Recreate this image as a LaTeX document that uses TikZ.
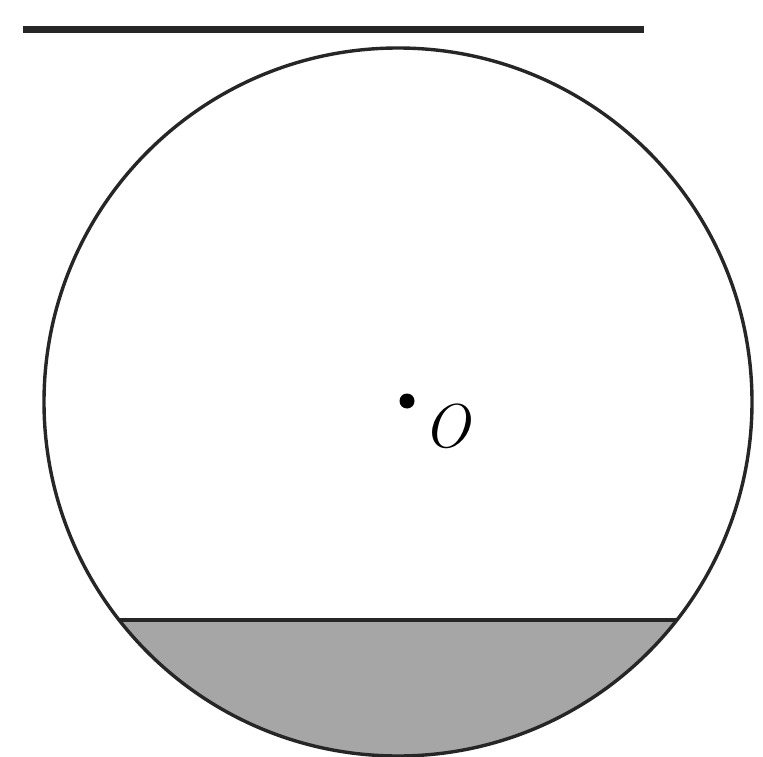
\documentclass[tikz,border=0pt]{standalone}
\usepackage{fix-cm}
\begin{document}
\begin{tikzpicture}[x=1pt,y=-1pt,
  outline/.style={draw=black!85,line width=3.4pt},
  chordline/.style={draw=black!85,line width=3.6pt},
  segfill/.style={fill=black!35}]
\useasboundingbox (0,0) rectangle (763,757);
\coordinate (C) at (398,402);
\coordinate (L1) at (23,30);
\coordinate (L2) at (644,30);
\coordinate (A) at (119,620);
\coordinate (B) at (677,620);
% shaded segment
\begin{scope}
  \clip (0,620) rectangle (763,800);
  \fill[segfill] (C) circle[radius=354];
\end{scope}
\draw[chordline] (A) -- (B);
\draw[outline] (C) circle[radius=354];
\draw[black!85,line width=7pt] (L1) -- (L2);
\fill (407,401) circle[radius=7.5] coordinate (P);
\node[font=\fontsize{62}{66}\selectfont\itshape] (Olab) at (447,426) {O};
\end{tikzpicture}
\end{document}
